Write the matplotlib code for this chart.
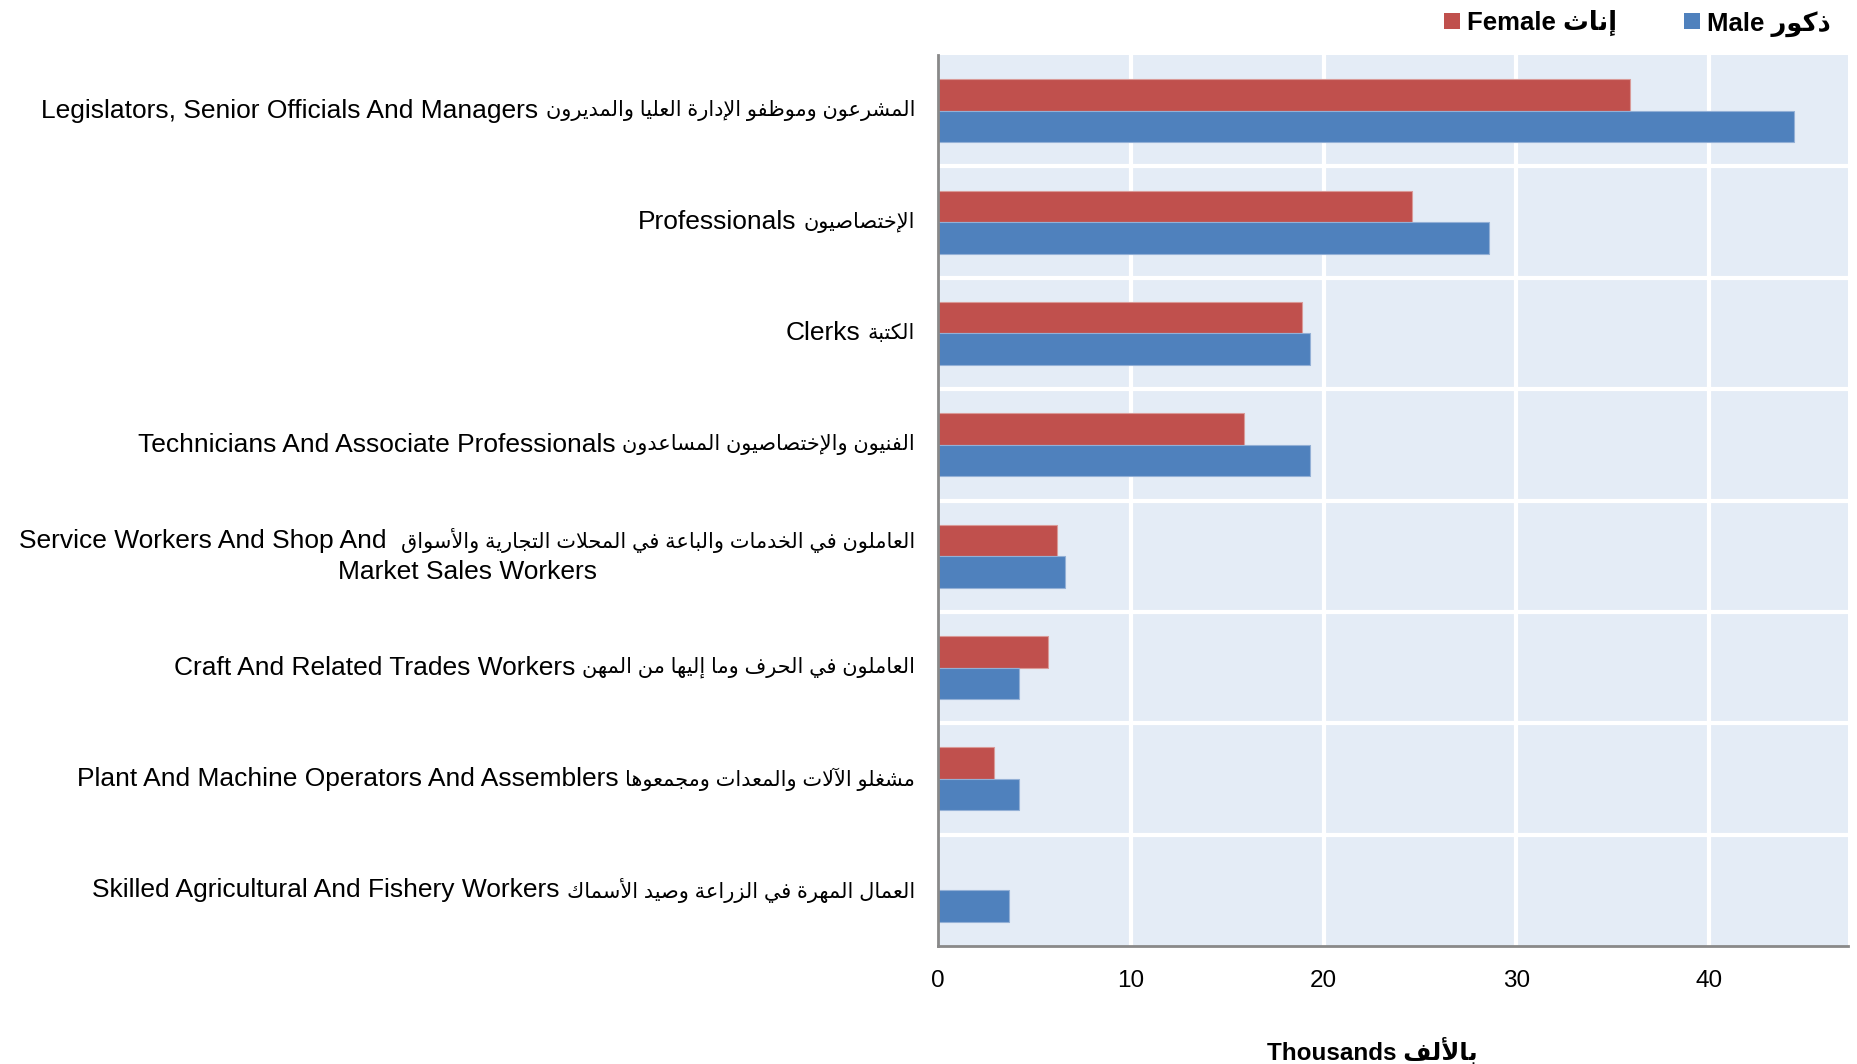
import matplotlib
matplotlib.use("Agg")
import matplotlib.pyplot as plt
from matplotlib.patches import Patch
import numpy as np

# ---------------- data ----------------
categories_en = [
    "Legislators, Senior Officials And Managers",
    "Professionals",
    "Clerks",
    "Technicians And Associate Professionals",
    "Service Workers And Shop And",
    "Craft And Related Trades Workers",
    "Plant And Machine Operators And Assemblers",
    "Skilled Agricultural And Fishery Workers",
]
categories_ar = [
    "المشرعون وموظفو الإدارة العليا والمديرون",
    "الإختصاصيون",
    "الكتبة",
    "الفنيون والإختصاصيون المساعدون",
    "العاملون في الخدمات والباعة في المحلات التجارية والأسواق",
    "العاملون في الحرف وما إليها من المهن",
    "مشغلو الآلات والمعدات ومجمعوها",
    "العمال المهرة في الزراعة وصيد الأسماك",
]
extra_line = ["", "", "", "", "Market Sales Workers", "", "", ""]
female = [35.9, 24.6, 18.9, 15.9, 6.2, 5.7, 2.9, 0.0]
male = [44.4, 28.6, 19.3, 19.3, 6.6, 4.2, 4.2, 3.7]
series_names = ["Female", "Male"]
series_ar = ["إناث", "ذكور"]
xlabel_en = "Thousands"
xlabel_ar = "بالألف"
xticks = [0, 10, 20, 30, 40]

# ---------------- minimal Arabic shaping ----------------
FORMS = {
    "ء": (0xFE80, None, None, None),
    "آ": (0xFE81, 0xFE82, None, None),
    "أ": (0xFE83, 0xFE84, None, None),
    "ؤ": (0xFE85, 0xFE86, None, None),
    "إ": (0xFE87, 0xFE88, None, None),
    "ئ": (0xFE89, 0xFE8A, 0xFE8B, 0xFE8C),
    "ا": (0xFE8D, 0xFE8E, None, None),
    "ب": (0xFE8F, 0xFE90, 0xFE91, 0xFE92),
    "ة": (0xFE93, 0xFE94, None, None),
    "ت": (0xFE95, 0xFE96, 0xFE97, 0xFE98),
    "ث": (0xFE99, 0xFE9A, 0xFE9B, 0xFE9C),
    "ج": (0xFE9D, 0xFE9E, 0xFE9F, 0xFEA0),
    "ح": (0xFEA1, 0xFEA2, 0xFEA3, 0xFEA4),
    "خ": (0xFEA5, 0xFEA6, 0xFEA7, 0xFEA8),
    "د": (0xFEA9, 0xFEAA, None, None),
    "ذ": (0xFEAB, 0xFEAC, None, None),
    "ر": (0xFEAD, 0xFEAE, None, None),
    "ز": (0xFEAF, 0xFEB0, None, None),
    "س": (0xFEB1, 0xFEB2, 0xFEB3, 0xFEB4),
    "ش": (0xFEB5, 0xFEB6, 0xFEB7, 0xFEB8),
    "ص": (0xFEB9, 0xFEBA, 0xFEBB, 0xFEBC),
    "ض": (0xFEBD, 0xFEBE, 0xFEBF, 0xFEC0),
    "ط": (0xFEC1, 0xFEC2, 0xFEC3, 0xFEC4),
    "ظ": (0xFEC5, 0xFEC6, 0xFEC7, 0xFEC8),
    "ع": (0xFEC9, 0xFECA, 0xFECB, 0xFECC),
    "غ": (0xFECD, 0xFECE, 0xFECF, 0xFED0),
    "ف": (0xFED1, 0xFED2, 0xFED3, 0xFED4),
    "ق": (0xFED5, 0xFED6, 0xFED7, 0xFED8),
    "ك": (0xFED9, 0xFEDA, 0xFEDB, 0xFEDC),
    "ل": (0xFEDD, 0xFEDE, 0xFEDF, 0xFEE0),
    "م": (0xFEE1, 0xFEE2, 0xFEE3, 0xFEE4),
    "ن": (0xFEE5, 0xFEE6, 0xFEE7, 0xFEE8),
    "ه": (0xFEE9, 0xFEEA, 0xFEEB, 0xFEEC),
    "و": (0xFEED, 0xFEEE, None, None),
    "ى": (0xFEEF, 0xFEF0, None, None),
    "ي": (0xFEF1, 0xFEF2, 0xFEF3, 0xFEF4),
}
LAMALEF = {"آ": (0xFEF5, 0xFEF6), "أ": (0xFEF7, 0xFEF8),
           "إ": (0xFEF9, 0xFEFA), "ا": (0xFEFB, 0xFEFC)}


def shape_ar(text):
    toks = []
    i = 0
    while i < len(text):
        c = text[i]
        if c == "ل" and i + 1 < len(text) and text[i + 1] in LAMALEF:
            toks.append(("LA", text[i + 1]))
            i += 2
            continue
        toks.append(("L" if c in FORMS else "O", c))
        i += 1

    def dual(t):
        return t[0] == "L" and FORMS[t[1]][2] is not None

    out = []
    for k, t in enumerate(toks):
        prev = toks[k - 1] if k > 0 else None
        nxt = toks[k + 1] if k + 1 < len(toks) else None
        if t[0] == "O":
            out.append(t[1])
            continue
        jp = prev is not None and dual(prev)
        if t[0] == "LA":
            iso, fin = LAMALEF[t[1]]
            out.append(chr(fin if jp else iso))
            continue
        f = FORMS[t[1]]
        jn = dual(t) and nxt is not None and nxt[0] in ("L", "LA")
        if jp and jn:
            code = f[3]
        elif jp:
            code = f[1] if f[1] else f[0]
        elif jn:
            code = f[2]
        else:
            code = f[0]
        out.append(chr(code))
    return "".join(out)[::-1]


FAM = ["Liberation Sans", "DejaVu Sans"]
plt.rcParams["font.family"] = FAM

# ---------------- figure ----------------
W, H = 1858, 1064
fig = plt.figure(figsize=(W / 100, H / 100), dpi=100)
ax = fig.add_axes([0.5048, 0.1109, 0.9946 - 0.5048, 0.9483 - 0.1109])
ax.set_facecolor("#E4ECF6")

y = np.arange(len(categories_en))
h = 0.283
c_f = "#C0504D"
c_m = "#4F81BD"
ax.barh(y - h / 2, female, height=h, color=c_f, edgecolor="#D99A98", linewidth=0.8, zorder=3)
ax.barh(y + h / 2, male, height=h, color=c_m, edgecolor="#93B0D6", linewidth=0.8, zorder=3)

ax.set_ylim(len(categories_en) - 0.5, -0.5)
ax.set_xlim(0, 47.2)
ax.set_xticks(xticks)
ax.set_xticklabels([str(v) for v in xticks], fontsize=17.5)

for xv in xticks[1:]:
    ax.axvline(xv, color="white", lw=3, zorder=1)
for b in np.arange(0.5, len(categories_en) - 0.5, 1):
    ax.axhline(b, color="white", lw=3, zorder=1)

ax.set_yticks(y)
ax.set_yticklabels([])
ax.tick_params(axis="both", length=0)
ax.tick_params(axis="x", pad=17)

for s in ["top", "right"]:
    ax.spines[s].set_visible(False)
for s in ["left", "bottom"]:
    ax.spines[s].set_color("#898989")
    ax.spines[s].set_linewidth(2)
    ax.spines[s].set_zorder(4)

# category labels: Arabic on the right, English to its left
EN_SIZE = 19
AR_SIZE = 15
pending = []
for i, (en, ar, ex) in enumerate(zip(categories_en, categories_ar, extra_line)):
    dy = 11 if ex else 0
    ta = ax.annotate(shape_ar(ar), xy=(0, i), xycoords="data",
                     xytext=(-16.5, dy), textcoords="offset points",
                     ha="right", va="center", fontsize=AR_SIZE, family=FAM)
    gap = -10 if ex else -5
    te = ax.annotate(en, xy=(0, 0.5), xycoords=ta, xytext=(gap, 0),
                     textcoords="offset points", ha="right", va="center",
                     fontsize=EN_SIZE, family=FAM)
    if ex:
        pending.append((i, ex, ta, te))

fig.canvas.draw()
r = fig.canvas.get_renderer()
for i, ex, ta, te in pending:
    ba = ta.get_window_extent(r)
    be = te.get_window_extent(r)
    xc = (be.x0 + ba.x1) / 2
    yc = ax.transData.transform((0, i))[1]
    fig.text(xc / W, (yc - 15.5) / H, ex, ha="center", va="center",
             fontsize=EN_SIZE, family=FAM)

# x label
fig.text(1372 / W, 1 - 1051 / H, xlabel_en + " " + shape_ar(xlabel_ar),
         ha="center", va="center", fontsize=17.5, fontweight="bold", family=FAM)

# legend
handles = [Patch(facecolor=c_f, edgecolor="none"), Patch(facecolor=c_m, edgecolor="none")]
labels = [n + " " + shape_ar(a) for n, a in zip(series_names, series_ar)]
fig.legend(handles, labels, loc="upper right", bbox_to_anchor=(0.998, 1.012),
           ncol=2, frameon=False, handlelength=0.6, handleheight=0.6,
           handletextpad=0.3, columnspacing=2.6,
           prop={"family": FAM, "weight": "bold", "size": 18.5})

fig.savefig("out.png", dpi=100)
